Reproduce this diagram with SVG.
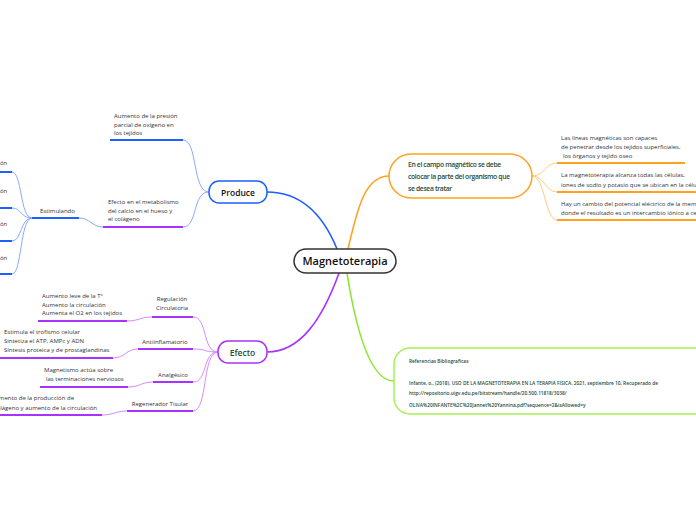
<svg xmlns="http://www.w3.org/2000/svg" width="696" height="520" viewBox="0 0 696 520">
<style>
text{font-family:"Open Sans","Noto Sans","DejaVu Sans",sans-serif;fill:#333}
.s{font-size:6px}
.lb{stroke:#88aaff;stroke-width:1;fill:none}
.lp{stroke:#d28cff;stroke-width:1;fill:none}
.lo{stroke:#ffcc80;stroke-width:1;fill:none}
.ub{stroke:#1f5fff;stroke-width:2;fill:none}
.up{stroke:#a833ff;stroke-width:2;fill:none}
.uo{stroke:#ffa21f;stroke-width:2;fill:none}
.g{fill:#1e4d3a}
</style>
<rect width="696" height="520" fill="#fff"/>
<g id="connectors">
<path d="M337,249 C322,212 300,192 267,192" stroke="#1f5fff" stroke-width="1.6" fill="none"/>
<path d="M339,273 C322,320 300,352 267,352" stroke="#a833ff" stroke-width="1.6" fill="none"/>
<path d="M348,249 C358,205 366,176 389,176" stroke="#ffa21f" stroke-width="1.6" fill="none"/>
<path d="M347,273 C356,330 370,381 394,381" stroke="#8ae62e" stroke-width="1.6" fill="none"/>
<path class="lb" d="M209,192 C192,192 198,140 183,140"/>
<path class="lb" d="M209,192 C192,192 198,227 183,227"/>
<path class="lb" d="M103,227 C92,227 90,218 79,218"/>
<path class="lb" d="M32,218 C20,218 22,172 12,172"/>
<path class="lb" d="M32,218 C20,218 22,208 12,208"/>
<path class="lb" d="M32,218 C20,218 22,241 12,241"/>
<path class="lb" d="M32,218 C20,218 22,274 12,274"/>
<path class="lp" d="M218,352 C202,352 208,317 193,317"/>
<path class="lp" d="M218,352 C202,352 208,349 193,349"/>
<path class="lp" d="M218,352 C202,352 208,382 193,382"/>
<path class="lp" d="M218,352 C202,352 208,411 193,411"/>
<path class="lp" d="M152,317 C140,317 139,321 127,321"/>
<path class="lp" d="M138,349 C126,349 125,358 113,358"/>
<path class="lp" d="M153,382 C141,382 140,387 128,387"/>
<path class="lp" d="M127,411 C115,411 114,415 102,415"/>
<path class="lo" d="M532,176 C545,176 545,163 557,163"/>
<path class="lo" d="M532,176 C545,176 545,192 557,192"/>
<path class="lo" d="M532,176 C545,176 545,220 557,220"/>
</g>
<g id="center">
<rect x="294" y="249" width="102" height="24" rx="12" fill="#fff" stroke="#333" stroke-width="1.5"/>
<text x="345" y="265" text-anchor="middle" style="font-size:11px;font-weight:600;fill:#111">Magnetoterapia</text>
</g>
<g id="produce">
<rect x="209" y="181" width="58" height="22" rx="10" fill="#fff" stroke="#1f5fff" stroke-width="1.5"/>
<text x="238" y="195.5" text-anchor="middle" style="font-size:8.5px;font-weight:600;fill:#111">Produce</text>
</g>
<g id="efecto">
<rect x="218" y="341" width="49" height="22" rx="10" fill="#fff" stroke="#a833ff" stroke-width="1.5"/>
<text x="242.5" y="355.5" text-anchor="middle" class="g" style="font-size:8.5px;font-weight:600">Efecto</text>
</g>
<g id="campo">
<rect x="389" y="154" width="143" height="44" rx="22" fill="#fff" stroke="#ffa21f" stroke-width="1.5"/>
<text class="g" style="font-size:6.8px;font-weight:600;letter-spacing:-0.35px"><tspan x="408" y="167">En el campo magnético se debe</tspan><tspan x="408" y="179">colocar la parte del organismo que</tspan><tspan x="408" y="191">se desea tratar</tspan></text>
</g>
<g id="referencias">
<rect x="394" y="348" width="320" height="66" rx="16" fill="#fff" stroke="#a6ef5a" stroke-width="1.5"/>
<text class="g" style="font-size:4.8px;font-weight:600"><tspan x="409" y="363">Referencias Bibliograficas</tspan><tspan x="409" y="385">Infante, o.. (2018). USO DE LA MAGNETOTERAPIA EN LA TERAPIA FISICA. 2021, septiembre 10, Recuperado de</tspan><tspan x="409" y="395">http://repositorio.uigv.edu.pe/bitstream/handle/20.500.11818/3038/</tspan><tspan x="409" y="407">OLIVA%20INFANTE%2C%20Jannet%20Yannina.pdf?sequence=2&amp;isAllowed=y</tspan></text>
</g>
<g id="presion">
<line class="ub" x1="110" y1="140" x2="183" y2="140"/>
<text class="s"><tspan x="114" y="118">Aumento de la presión</tspan><tspan x="114" y="126.5">parcial de oxígeno en</tspan><tspan x="114" y="135">los tejidos</tspan></text>
</g>
<g id="metabolismo">
<line class="up" x1="103" y1="227" x2="183" y2="227"/>
<text class="s"><tspan x="108" y="204">Efecto en el metabolismo</tspan><tspan x="108" y="213">del calcio en el hueso y</tspan><tspan x="108" y="221">el colágeno</tspan></text>
</g>
<g id="estimulando">
<line class="ub" x1="32" y1="218" x2="79" y2="218"/>
<text class="s" x="40" y="213">Estimulando</text>
</g>
<g id="est1"><line class="ub" x1="-2" y1="172" x2="12" y2="172"/><text class="s" x="0" y="165">ón</text></g>
<g id="est2"><line class="ub" x1="-2" y1="208" x2="12" y2="208"/><text class="s" x="0" y="193">ón</text></g>
<g id="est3"><line class="ub" x1="-2" y1="241" x2="12" y2="241"/><text class="s" x="0" y="226">ón</text></g>
<g id="est4"><line class="ub" x1="-2" y1="274" x2="12" y2="274"/><text class="s" x="0" y="260">ón</text></g>
<g id="regulacion">
<line class="up" x1="152" y1="317" x2="193" y2="317"/>
<text class="s" text-anchor="middle"><tspan x="172" y="301">Regulación</tspan><tspan x="172" y="310">Circulatoria</tspan></text>
</g>
<g id="reg-leaf">
<line class="up" x1="38" y1="321" x2="127" y2="321"/>
<text class="s"><tspan x="42" y="298">Aumento leve de la T°</tspan><tspan x="42" y="306.5">Aumento la circulación</tspan><tspan x="42" y="315">Aumenta el O2 en los tejidos</tspan></text>
</g>
<g id="antiinflamatorio">
<line class="up" x1="138" y1="349" x2="193" y2="349"/>
<text class="s" x="165" y="344" text-anchor="middle">Antiinflamatorio</text>
</g>
<g id="anti-leaf">
<line class="up" x1="-2" y1="358" x2="113" y2="358"/>
<text class="s"><tspan x="4" y="334">Estimula el trofismo celular</tspan><tspan x="4" y="343">Sintetiza el ATP, AMPc y ADN</tspan><tspan x="4" y="352">Síntesis proteica y de prostaglandinas</tspan></text>
</g>
<g id="analgesico">
<line class="up" x1="153" y1="382" x2="193" y2="382"/>
<text class="s" x="173" y="376.5" text-anchor="middle">Analgésico</text>
</g>
<g id="anal-leaf">
<line class="up" x1="40" y1="387" x2="128" y2="387"/>
<text class="s"><tspan x="44" y="372">Magnetismo actúa sobre</tspan><tspan x="46" y="381">las terminaciones nerviosos</tspan></text>
</g>
<g id="regenerador">
<line class="up" x1="127" y1="411" x2="193" y2="411"/>
<text class="s" x="160" y="405.5" text-anchor="middle">Regenerador Tisular</text>
</g>
<g id="regen-leaf">
<line class="up" x1="-2" y1="415" x2="102" y2="415"/>
<text class="s" text-anchor="end"><tspan x="74" y="400">Aumento de la producción de</tspan><tspan x="97" y="410">colágeno y aumento de la circulación</tspan></text>
</g>
<g id="lineas">
<line class="uo" x1="557" y1="163" x2="685" y2="163"/>
<text class="s"><tspan x="561" y="140">Las líneas magnéticas son capaces</tspan><tspan x="561" y="149">de penetrar desde los tejidos superficiales,</tspan><tspan x="563" y="158">los órganos y tejido oseo</tspan></text>
</g>
<g id="celulas">
<line class="uo" x1="557" y1="192" x2="700" y2="192"/>
<text class="s"><tspan x="561" y="177">La magnetoterapia alcanza todas las células,</tspan><tspan x="561" y="187">iones de sodio y potasio que se ubican en la célula</tspan></text>
</g>
<g id="potencial">
<line class="uo" x1="557" y1="220" x2="700" y2="220"/>
<text class="s"><tspan x="561" y="206">Hay un cambio del potencial eléctrico de la membrana</tspan><tspan x="561" y="215">donde el resultado es un intercambio iónico a celular</tspan></text>
</g>
</svg>
